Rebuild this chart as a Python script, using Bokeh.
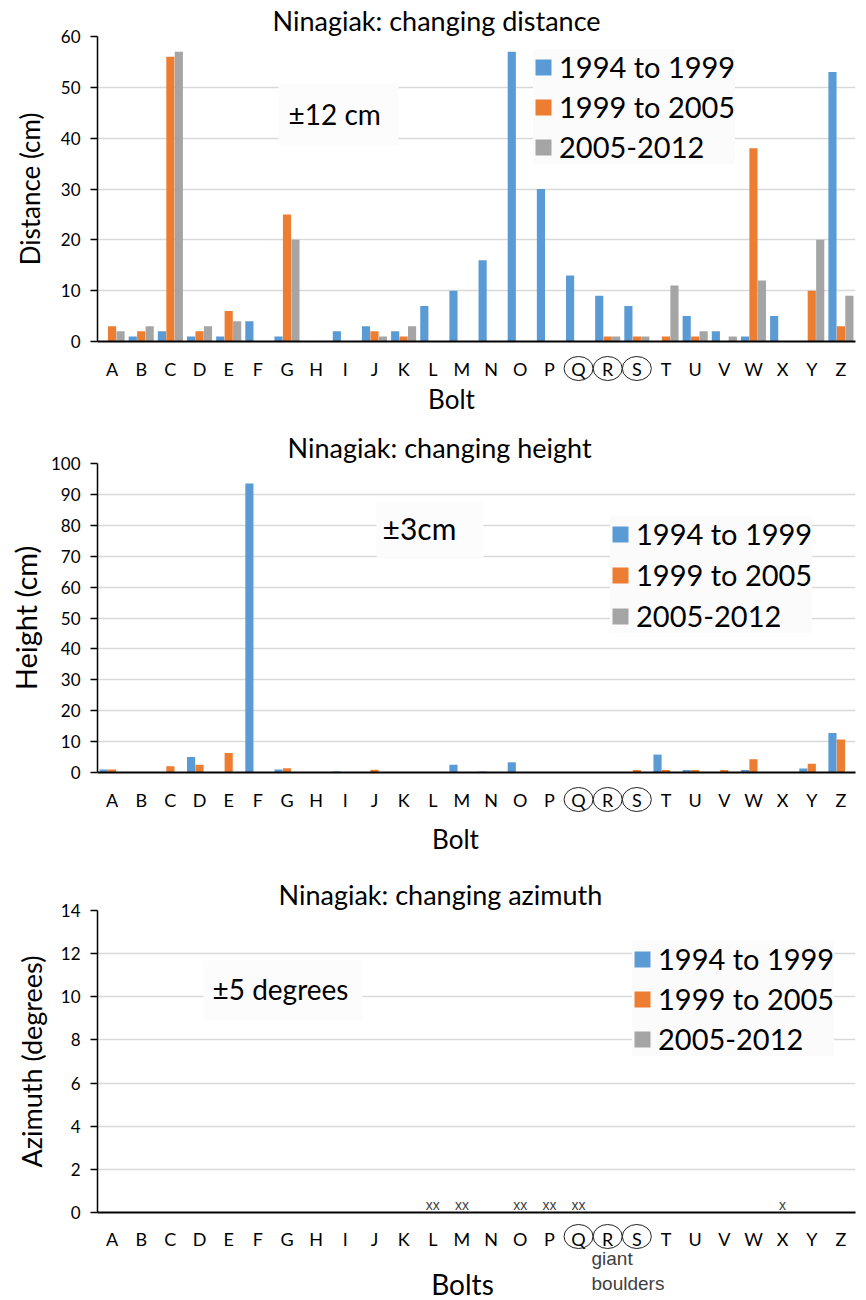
from bokeh.plotting import figure
from bokeh.models import (Range1d, FixedTicker, Legend, LegendItem, Label, ColumnDataSource,
                          BoxAnnotation)
from bokeh.layouts import column
from bokeh.transform import dodge
from bokeh.embed import file_html
from bokeh.resources import INLINE
from bokeh.core.properties import value

# ---------------------------------------------------------------- data
bolts = ["A", "B", "C", "D", "E", "F", "G", "H", "I", "J", "K", "L", "M",
         "N", "O", "P", "Q", "R", "S", "T", "U", "V", "W", "X", "Y", "Z"]
circled = ["Q", "R", "S"]
periods = ["1994 to 1999", "1999 to 2005", "2005-2012"]
period_colors = ["#5B9BD5", "#ED7D31", "#A5A5A5"]

distance_1994_1999 = [0, 1, 2, 1, 1, 4, 1, 0, 2, 3, 2, 7, 10, 16, 57, 30, 13, 9, 7, 0, 5, 2, 1, 5, 0, 53]
distance_1999_2005 = [3, 2, 56, 2, 6, 0, 25, 0, 0, 2, 1, 0, 0, 0, 0, 0, 0, 1, 1, 1, 1, 0, 38, 0, 10, 3]
distance_2005_2012 = [2, 3, 57, 3, 4, 0, 20, 0, 0, 1, 3, 0, 0, 0, 0, 0, 0, 1, 1, 11, 2, 1, 12, 0, 20, 9]

height_1994_1999 = [1, 0, 0, 5, 0, 93.5, 1, 0, 0.3, 0.2, 0, 0, 2.5, 0.3, 3.3, 0.2, 0.2, 0, 0.2, 5.8, 0.8, 0.2, 0.8, 0.2, 1.3, 12.8]
height_1999_2005 = [1, 0, 2, 2.5, 6.3, 0, 1.4, 0, 0, 0.9, 0, 0, 0, 0, 0, 0, 0, 0, 0.8, 0.8, 0.8, 0.8, 4.3, 0, 2.8, 10.7]
height_2005_2012 = [0, 0, 0, 0, 0, 0, 0, 0, 0, 0, 0, 0, 0, 0, 0, 0, 0, 0, 0, 0, 0, 0, 0, 0, 0, 0]

azimuth_1994_1999 = [0, 0, 0, 0, 0, 0, 0, 0, 0, 0, 0, 0, 0, 0, 0, 0, 0, 0, 0, 0, 0, 0, 0, 0, 0, 0]
azimuth_1999_2005 = [0, 0, 0, 0, 0, 0, 0, 0, 0, 0, 0, 0, 0, 0, 0, 0, 0, 0, 0, 0, 0, 0, 0, 0, 0, 0]
azimuth_2005_2012 = [0, 0, 0, 0, 0, 0, 0, 0, 0, 0, 0, 0, 0, 0, 0, 0, 0, 0, 0, 0, 0, 0, 0, 0, 0, 0]
azimuth_flags = ["", "", "", "", "", "", "", "", "", "", "", "xx", "xx", "", "xx", "xx", "xx",
                 "", "", "", "", "", "", "x", "", ""]

# ---------------------------------------------------------------- layout
WIDTH = 866
LEFT = 97
RIGHT = 11
FRAME_W = WIDTH - LEFT - RIGHT
FONT = "Lato"
N = len(bolts)

charts = [
    dict(title="Ninagiak: changing distance", title_offset=175,
         h=351, top=36, bottom=341, ymax=60, step=10,
         series=(distance_1994_1999, distance_1999_2005, distance_2005_2012),
         ylabel="Distance (cm)", ylabel_size=26, ylabel_standoff=12,
         note="\u00b112 cm", note_pos=(288, 113), note_size=28, note_box=(278, 398, 83, 145),
         legend_pos=(436, 177), legend_spacing=5,
         strip_h=74, tick_y=17, ring_y=17, xlabel="Bolt", xlabel_pos=(451, 47), xlabel_size=26),
    dict(title="Ninagiak: changing height", title_offset=190,
         h=357, top=38, bottom=347, ymax=100, step=10,
         series=(height_1994_1999, height_1999_2005, height_2005_2012),
         ylabel="Height (cm)", ylabel_size=29, ylabel_standoff=5,
         note="\u00b13cm", note_pos=(382, 102), note_size=30, note_box=(376, 483, 77, 132),
         legend_pos=(513, 139), legend_spacing=6,
         strip_h=83, tick_y=17, ring_y=17, xlabel="Bolt", xlabel_pos=(455, 56), xlabel_size=26),
    dict(title="Ninagiak: changing azimuth", title_offset=181,
         h=357, top=45, bottom=347, ymax=14, step=2,
         series=(azimuth_1994_1999, azimuth_1999_2005, azimuth_2005_2012),
         ylabel="Azimuth (degrees)", ylabel_size=27, ylabel_standoff=10,
         note="\u00b15 degrees", note_pos=(212, 123), note_size=28, note_box=(203, 362, 95, 155),
         legend_pos=(535, 156), legend_spacing=5, flags=azimuth_flags,
         strip_h=78, tick_y=16, ring_y=14, xlabel="Bolts", xlabel_pos=(462, 61), xlabel_size=28,
         caption=(("giant", 36), ("boulders", 61))),
]


def fx(px):
    """Horizontal pixel position -> bolt axis coordinate."""
    return -0.5 + (px - LEFT) / FRAME_W * N


def build_chart(c):
    top, bottom, ymax = c["top"], c["bottom"], c["ymax"]

    def fy(py):
        return (bottom - py) / (bottom - top) * ymax

    p = figure(width=WIDTH, height=c["h"], x_range=Range1d(-0.5, N - 0.5),
               y_range=Range1d(0, ymax), output_backend="svg", toolbar_location=None,
               title=c["title"], min_border_left=LEFT, min_border_right=RIGHT,
               min_border_top=top, min_border_bottom=c["h"] - bottom)
    p.outline_line_color = None
    p.background_fill_color = "white"
    p.border_fill_color = "white"

    p.title.align = "left"
    p.title.offset = c["title_offset"]
    p.title.text_font = FONT
    p.title.text_font_size = "27px"
    p.title.text_font_style = "normal"
    p.title.text_color = "black"
    p.title.standoff = 0

    yticks = list(range(0, ymax + 1, c["step"]))
    p.xgrid.visible = False
    p.ygrid.ticker = FixedTicker(ticks=yticks)
    p.ygrid.grid_line_color = "#D9D9D9"
    p.ygrid.grid_line_width = 1.5

    ya = p.yaxis[0]
    ya.ticker = FixedTicker(ticks=yticks)
    ya.axis_line_color = "black"
    ya.axis_line_width = 1.5
    ya.major_tick_line_color = "black"
    ya.major_tick_line_width = 1.5
    ya.major_tick_out = 7
    ya.major_tick_in = 0
    ya.minor_tick_line_color = None
    ya.major_label_text_font = FONT
    ya.major_label_text_font_size = "17px"
    ya.major_label_text_color = "black"
    ya.major_label_standoff = 10
    ya.axis_label = c["ylabel"]
    ya.axis_label_text_font = FONT
    ya.axis_label_text_font_size = f"{c['ylabel_size']}px"
    ya.axis_label_text_font_style = "normal"
    ya.axis_label_text_color = "black"
    ya.axis_label_standoff = c["ylabel_standoff"]

    # the bolt letters are written in the strip underneath; this axis keeps the base line
    xa = p.xaxis[0]
    xa.ticker = FixedTicker(ticks=[])
    xa.axis_line_color = "black"
    xa.axis_line_width = 2
    xa.major_tick_line_color = None
    xa.minor_tick_line_color = None
    xa.major_tick_out = 0
    xa.major_tick_in = 0
    xa.major_label_standoff = 0

    s1, s2, s3 = c["series"]
    src = ColumnDataSource(dict(x=list(range(N)), s1=s1, s2=s2, s3=s3))
    renderers = []
    for k, off in enumerate((-0.29, 0.0, 0.29)):
        r = p.vbar(x=dodge("x", off), top=f"s{k + 1}", width=0.28, bottom=0,
                   source=src, fill_color=period_colors[k], line_color=None)
        renderers.append(r)

    legend = Legend(items=[LegendItem(label=lab, renderers=[r]) for lab, r in zip(periods, renderers)],
                    location=c["legend_pos"], margin=0, padding=8,
                    spacing=c["legend_spacing"], glyph_width=20, glyph_height=20,
                    label_standoff=6, label_text_font=FONT, label_text_font_size="29px",
                    label_text_color="black", background_fill_color="#FBFBFB",
                    background_fill_alpha=1.0, border_line_color=None)
    p.add_layout(legend)

    if "flags" in c:
        fsrc = ColumnDataSource(dict(x=list(range(N)), t=c["flags"]))
        p.text(x="x", y=0, text="t", source=fsrc, text_align="center", text_baseline="bottom",
               text_font=value("Liberation Sans"), text_font_size="14px", text_color="#404040")

    # precision note on a faint panel
    bl, br, bt, bb = c["note_box"]
    p.add_layout(BoxAnnotation(left=fx(bl), right=fx(br), top=fy(bt), bottom=fy(bb),
                               fill_color="#FCFCFC", fill_alpha=1.0, line_color=None))
    nx, ny = c["note_pos"]
    p.add_layout(Label(x=fx(nx), y=fy(ny), text=c["note"], text_align="left",
                       text_baseline="middle", text_font=FONT,
                       text_font_size=f"{c['note_size']}px", text_color="black"))
    return p


def build_strip(c, x_range):
    """Bolt letters, rings round the boulder bolts and the axis title, below a chart."""
    h = c["strip_h"]
    s = figure(width=WIDTH, height=h, x_range=x_range, y_range=Range1d(h, 0),
               output_backend="svg", toolbar_location=None, x_axis_type=None, y_axis_type=None,
               min_border_left=LEFT, min_border_right=RIGHT, min_border_top=0, min_border_bottom=0)
    s.outline_line_color = None
    s.background_fill_color = "white"
    s.border_fill_color = "white"
    s.grid.visible = False

    tsrc = ColumnDataSource(dict(x=list(range(N)), bolt=bolts))
    s.text(x="x", y=c["tick_y"], text="bolt", source=tsrc, text_align="center",
           text_baseline="middle", text_font=value(FONT), text_font_size="18px",
           text_color="black")

    rsrc = ColumnDataSource(dict(x=[bolts.index(b) for b in circled]))
    s.ellipse(x="x", y=c["ring_y"], width=29, height=24, width_units="screen",
              height_units="screen", source=rsrc, fill_color=None, line_color="#222222",
              line_width=1)

    bx, by = c["xlabel_pos"]
    s.add_layout(Label(x=fx(bx), y=by, text=c["xlabel"], text_align="center",
                       text_baseline="middle", text_font=FONT,
                       text_font_size=f"{c['xlabel_size']}px", text_color="black"))
    for txt, py in c.get("caption", ()):
        s.add_layout(Label(x=fx(591), y=py, text=txt, text_align="left", text_baseline="middle",
                           text_font="Liberation Sans", text_font_size="19px",
                           text_color="#404040"))
    return s


parts = []
for c in charts:
    chart = build_chart(c)
    parts.append(chart)
    parts.append(build_strip(c, chart.x_range))

layout = column(*parts, spacing=0)
open("out.html", "w").write(file_html(layout, INLINE))
